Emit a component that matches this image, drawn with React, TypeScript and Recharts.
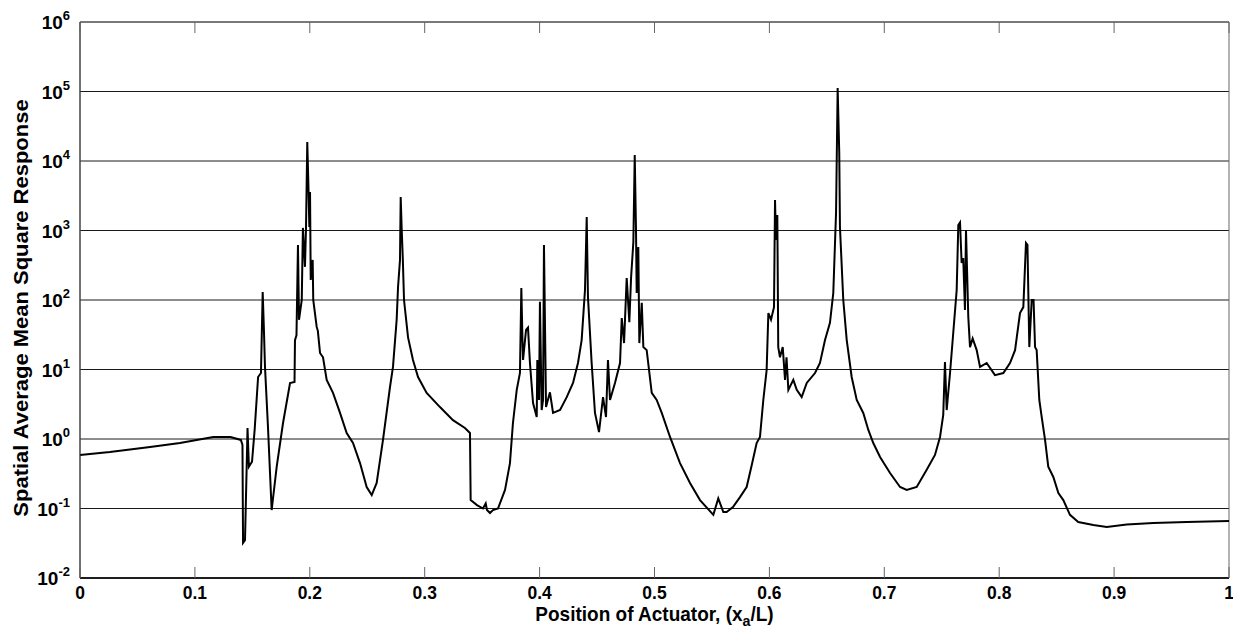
import React from 'react';
import { LineChart, Line, XAxis, YAxis, CartesianGrid, ReferenceArea } from 'recharts';

const FONT = '"Liberation Sans", Arial, Helvetica, sans-serif';

const positions = [
  0, 0.026, 0.061, 0.087, 0.116, 0.131, 0.14, 0.1414, 0.1419, 0.1436,
  0.145, 0.1458, 0.147, 0.1497, 0.152, 0.155, 0.1575, 0.159, 0.16, 0.161,
  0.1636, 0.1668, 0.1712, 0.1767, 0.1828, 0.1867, 0.1871, 0.1884, 0.1897, 0.1906,
  0.193, 0.194, 0.1958, 0.1967, 0.1978, 0.1989, 0.1996, 0.2002, 0.2008, 0.2025,
  0.203, 0.206, 0.207, 0.2089, 0.2115, 0.2147, 0.2202, 0.2263, 0.2321, 0.2376,
  0.2437, 0.2495, 0.2539, 0.2582, 0.2637, 0.2698, 0.2724, 0.2756, 0.2768, 0.2785,
  0.2791, 0.28, 0.2809, 0.282, 0.2855, 0.2898, 0.2942, 0.3017, 0.3133, 0.3246,
  0.335, 0.3394, 0.34, 0.3455, 0.3507, 0.3531, 0.3542, 0.3568, 0.3594, 0.3638,
  0.3699, 0.3742, 0.3768, 0.3801, 0.3829, 0.3841, 0.3851, 0.3856, 0.3882, 0.3899,
  0.3916, 0.3943, 0.3975, 0.398, 0.3995, 0.4003, 0.4018, 0.403, 0.4038, 0.4056,
  0.409, 0.4117, 0.4178, 0.4236, 0.4291, 0.4334, 0.4366, 0.4395, 0.441, 0.4421,
  0.4453, 0.4482, 0.4517, 0.4552, 0.4578, 0.4595, 0.4613, 0.4656, 0.47, 0.4715,
  0.4735, 0.4758, 0.4781, 0.4796, 0.4816, 0.4828, 0.4839, 0.4845, 0.4859, 0.4868,
  0.4889, 0.4903, 0.4932, 0.4976, 0.5019, 0.5063, 0.5135, 0.5222, 0.5309, 0.5396,
  0.5512, 0.5555, 0.5599, 0.5628, 0.5683, 0.5744, 0.5802, 0.5846, 0.5889, 0.5918,
  0.5947, 0.5976, 0.5991, 0.6014, 0.604, 0.6049, 0.6057, 0.6069, 0.6077, 0.6092,
  0.6116, 0.6136, 0.6149, 0.6165, 0.6208, 0.6238, 0.6281, 0.6325, 0.6397, 0.644,
  0.6484, 0.6527, 0.6556, 0.658, 0.6594, 0.6608, 0.6614, 0.6643, 0.6673, 0.6716,
  0.676, 0.6817, 0.6861, 0.6904, 0.6963, 0.705, 0.7137, 0.7195, 0.7282, 0.7369,
  0.7441, 0.7485, 0.7513, 0.7528, 0.7543, 0.7572, 0.76, 0.763, 0.7644, 0.7659,
  0.7673, 0.7687, 0.7702, 0.7711, 0.7731, 0.7746, 0.7769, 0.7804, 0.7833, 0.7891,
  0.7963, 0.8036, 0.8094, 0.8138, 0.8181, 0.821, 0.8233, 0.8246, 0.8262, 0.8283,
  0.8299, 0.8312, 0.8326, 0.8349, 0.837, 0.8399, 0.8427, 0.8471, 0.8515, 0.8558,
  0.8616, 0.8688, 0.8819, 0.8936, 0.911, 0.9341, 0.9632, 1.0,
];

const responses = [
  0.59, 0.65, 0.77, 0.875, 1.07, 1.07, 0.97, 0.82, 0.032, 0.035,
  0.36, 1.44, 0.4, 0.47, 1.35, 7.8, 8.9, 130, 41, 10.9,
  1.49, 0.095, 0.4, 1.7, 6.4, 6.6, 26.5, 31, 620, 52,
  100, 1090, 300, 1090, 18700, 3800, 1120, 3580, 194, 377,
  100, 41, 36, 17.3, 15, 7.1, 4.6, 2.37, 1.22, 0.875,
  0.45, 0.204, 0.156, 0.233, 0.97, 5.6, 10.9, 52, 154, 377,
  3030, 1020, 416, 100, 29, 13.7, 7.8, 4.6, 2.88, 1.87,
  1.44, 1.22, 0.132, 0.112, 0.1, 0.118, 0.095, 0.086, 0.095, 0.1,
  0.185, 0.45, 1.7, 5.1, 8.9, 149, 26.5, 13.7, 37, 40,
  12.4, 3.3, 2.07, 13.7, 3.64, 94, 2.61, 3.64, 620, 2.88,
  4.7, 2.37, 2.61, 4.0, 6.4, 12.4, 26.5, 139, 1560, 110,
  12.4, 2.37, 1.26, 4.0, 2.07, 13.7, 3.64, 6.4, 12.4, 55,
  24, 207, 48, 207, 684, 12200, 1020, 126, 580, 24,
  91, 21, 19, 4.6, 3.64, 2.37, 1.07, 0.45, 0.233, 0.132,
  0.081, 0.14, 0.089, 0.089, 0.105, 0.146, 0.204, 0.42, 0.875, 1.07,
  3.64, 9.8, 65, 52, 79, 2750, 730, 1670, 21, 15,
  21, 7.1, 15, 5.1, 7.1, 5.1, 4.0, 6.4, 8.9, 12.4,
  26.5, 47, 126, 1790, 112000, 13000, 1120, 100, 26.5, 7.8,
  3.64, 2.37, 1.35, 0.875, 0.55, 0.324, 0.204, 0.185, 0.204, 0.36,
  0.59, 1.07, 2.22, 12.8, 2.61, 8.9, 33.5, 139, 1200, 1310,
  340, 400, 72, 1020, 57, 21, 28, 19, 10.9, 12.4,
  8.3, 8.9, 12.4, 19, 65, 79, 660, 620, 21, 100,
  100, 21, 19, 3.64, 2.07, 0.97, 0.4, 0.284, 0.167, 0.132,
  0.081, 0.064, 0.058, 0.054, 0.059, 0.062, 0.064, 0.066,
];

const xTicks = [0, 0.1, 0.2, 0.3, 0.4, 0.5, 0.6, 0.7, 0.8, 0.9, 1];
const xTickLabels = ['0', '0.1', '0.2', '0.3', '0.4', '0.5', '0.6', '0.7', '0.8', '0.9', '1'];
const yTicks = [1e-2, 1e-1, 1e0, 1e1, 1e2, 1e3, 1e4, 1e5, 1e6];
const yExponents = ['-2', '-1', '0', '1', '2', '3', '4', '5', '6'];

const xTitle = 'Position of Actuator, (x';
const xTitleSub = 'a';
const xTitleEnd = '/L)';
const yTitle = 'Spatial Average Mean Square Response';

const data = positions.map((x, i) => ({ x, y: responses[i] }));

const BottomTick = (props: any) => {
  const { x, y, index } = props;
  return (
    <g>
      <line x1={x} y1={y} x2={x} y2={y - 11} stroke="#666" strokeWidth={1} />
      <text
        x={0}
        y={0}
        transform={`translate(${x},${y + 21}) scale(0.92,1)`}
        textAnchor="middle"
        fontFamily={FONT}
        fontWeight="bold"
        fontSize={19}
        fill="#000"
      >
        {xTickLabels[index]}
      </text>
    </g>
  );
};

const TopTick = (props: any) => {
  const { x, y } = props;
  return <line x1={x} y1={y} x2={x} y2={y + 11} stroke="#666" strokeWidth={1} />;
};

const LeftTick = (props: any) => {
  const { x, y, index } = props;
  return (
    <text x={x - 10} y={y + 7} textAnchor="end" fontFamily={FONT} fontWeight="bold" fontSize={19} fill="#000">
      10
      <tspan dy={-9} fontSize={13}>{yExponents[index]}</tspan>
    </text>
  );
};

const XTitle = (props: any) => {
  const vb = props.viewBox || {};
  const cx = vb.x + vb.width / 2;
  const cy = vb.y + 43;
  return (
    <text
      x={0}
      y={0}
      transform={`translate(${cx},${cy}) scale(0.95,1)`}
      textAnchor="middle"
      fontFamily={FONT}
      fontWeight="bold"
      fontSize={20}
      fill="#000"
    >
      {xTitle}
      <tspan dy={5} fontSize={15}>{xTitleSub}</tspan>
      <tspan dy={-5}>{xTitleEnd}</tspan>
    </text>
  );
};

const YTitle = (props: any) => {
  const vb = props.viewBox || {};
  const cx = 20;
  const cy = vb.y + vb.height / 2 + 8;
  return (
    <text
      x={0}
      y={0}
      transform={`translate(${cx},${cy}) scale(0.9,1) rotate(-90)`}
      textAnchor="middle"
      fontFamily={FONT}
      fontWeight="bold"
      fontSize={22}
      fill="#000"
    >
      {yTitle}
    </text>
  );
};

export default function App() {
  return (
    <div style={{ width: 1233, height: 626, background: '#fff' }}>
      <LineChart
        width={1233}
        height={626}
        data={data}
        margin={{ top: 13, right: 12, bottom: 0, left: 0 }}
      >
        <CartesianGrid vertical={false} stroke="#1a1a1a" strokeWidth={1} />
        <ReferenceArea x1={0} x2={1} y1={0.01} y2={1e6} fill="none" stroke="#666" strokeWidth={1} />
        <XAxis
          dataKey="x"
          type="number"
          domain={[0, 1]}
          ticks={xTicks}
          interval={0}
          height={56}
          tickSize={0}
          tickMargin={0}
          tickLine={false}
          axisLine={{ stroke: '#000', strokeWidth: 1.3 }}
          tick={(p: any) => <BottomTick {...p} />}
          label={(p: any) => <XTitle {...p} />}
        />
        <XAxis
          xAxisId="top"
          dataKey="x"
          orientation="top"
          type="number"
          domain={[0, 1]}
          ticks={xTicks}
          interval={0}
          height={1}
          tickSize={0}
          tickMargin={0}
          tickLine={false}
          axisLine={false}
          tick={(p: any) => <TopTick {...p} />}
        />
        <YAxis
          dataKey="y"
          type="number"
          scale="log"
          domain={[0.01, 1e6]}
          allowDataOverflow
          ticks={yTicks}
          interval={0}
          width={72}
          tickSize={0}
          tickMargin={0}
          tickLine={false}
          axisLine={{ stroke: '#333', strokeWidth: 1 }}
          tick={(p: any) => <LeftTick {...p} />}
          label={(p: any) => <YTitle {...p} />}
        />
        <Line
          type="linear"
          dataKey="y"
          stroke="#000"
          strokeWidth={2}
          dot={false}
          isAnimationActive={false}
        />
      </LineChart>
    </div>
  );
}
